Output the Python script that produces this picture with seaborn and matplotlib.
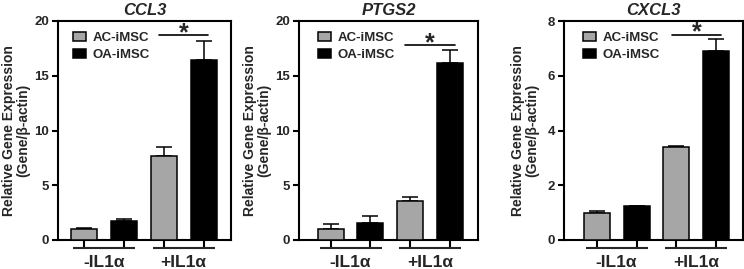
import numpy as np
import pandas as pd
import matplotlib
matplotlib.use('Agg')
import matplotlib.pyplot as plt
import matplotlib.transforms as mtransforms
import seaborn as sns

# ========== DATA ==========
GENES = ['CCL3', 'PTGS2', 'CXCL3']
CONDITIONS = ['-IL1α', '+IL1α']
GROUPS = ['AC-iMSC', 'OA-iMSC']

CCL3_AC = [1.00, 7.65]
CCL3_AC_ERR = [0.07, 0.88]
CCL3_OA = [1.75, 16.45]
CCL3_OA_ERR = [0.17, 1.72]

PTGS2_AC = [1.00, 3.56]
PTGS2_AC_ERR = [0.43, 0.39]
PTGS2_OA = [1.52, 16.20]
PTGS2_OA_ERR = [0.67, 1.15]

CXCL3_AC = [0.97, 3.41]
CXCL3_AC_ERR = [0.10, 0.03]
CXCL3_OA = [1.23, 6.91]
CXCL3_OA_ERR = [0.03, 0.45]

SIG_Y = [18.7, 17.8, 7.5]
Y_MAX = [20, 20, 8]
Y_STEP = [5, 5, 2]

PANELS = [
    (CCL3_AC, CCL3_AC_ERR, CCL3_OA, CCL3_OA_ERR),
    (PTGS2_AC, PTGS2_AC_ERR, PTGS2_OA, PTGS2_OA_ERR),
    (CXCL3_AC, CXCL3_AC_ERR, CXCL3_OA, CXCL3_OA_ERR),
]

# ========== LAYOUT ==========
W, H = 744, 269
AX_PX = [(58, 231), (299, 478), (564, 743)]
AX_TOP, AX_BOT = 21, 240
XLIMS = [(-0.577, 1.593), (-0.648, 1.604), (-0.66, 1.585)]
LEGEND_X = [0.087, 0.107, 0.107]
LABELPAD = [3, 3, 6]
COLORS = ['#a6a6a6', '#000000']

sns.set_style('ticks')
plt.rcParams['font.family'] = ['Liberation Sans', 'DejaVu Sans']
plt.rcParams['font.weight'] = 'bold'


def draw_panel(ax, gene, ac, ac_err, oa, oa_err, sig_y, ymax, ystep, xlim, leg_x, lpad):
    df = pd.DataFrame({
        'condition': CONDITIONS * 2,
        'group': [GROUPS[0]] * 2 + [GROUPS[1]] * 2,
        'value': ac + oa,
    })
    sns.barplot(data=df, x='condition', y='value', hue='group', order=CONDITIONS,
                hue_order=GROUPS, palette=COLORS, width=1.0, gap=0.35,
                errorbar=None, edgecolor='black', linewidth=1.1, legend=False,
                saturation=1, ax=ax, zorder=3)

    # upward-only error bars, positioned from the drawn bars
    centers = []
    for cont, err in zip(ax.containers, [ac_err, oa_err]):
        xs = [p.get_x() + p.get_width() / 2 for p in cont]
        ys = [p.get_height() for p in cont]
        centers += xs
        ax.errorbar(xs, ys, yerr=[np.zeros(len(err)), err], fmt='none',
                    ecolor='black', elinewidth=1.1, capsize=6, capthick=1.1, zorder=2)

    ax.set_xlim(*xlim)
    ax.set_ylim(0, ymax)
    ax.set_yticks(np.arange(0, ymax + 0.01, ystep))
    ax.yaxis.set_major_formatter(matplotlib.ticker.FormatStrFormatter('%d'))

    # group labels on major ticks, bar ticks as minor
    ax.set_xticks(range(len(CONDITIONS)))
    ax.set_xticklabels(CONDITIONS, fontsize=12.5, fontweight='bold')
    ax.set_xticks(sorted(centers), minor=True)
    ax.tick_params(axis='x', which='major', length=0, pad=11)
    ax.tick_params(axis='x', which='minor', length=6, width=1.5, direction='out', color='black')
    ax.tick_params(axis='y', length=4.5, width=1.5, direction='out', labelsize=9.5, pad=2, color='black')
    for lab in ax.get_yticklabels():
        lab.set_fontweight('bold')

    for side in ['left', 'right', 'top', 'bottom']:
        ax.spines[side].set_visible(True)
        ax.spines[side].set_linewidth(1.5)
        ax.spines[side].set_color('black')

    # group bracket lines below the axis
    trans = mtransforms.blended_transform_factory(ax.transData, ax.transAxes)
    for g in range(len(CONDITIONS)):
        ax.plot([g - 0.39, g + 0.39], [-8 / 219, -8 / 219], transform=trans,
                color='#262626', lw=1.5, clip_on=False, solid_capstyle='butt')

    # significance line and star over the +IL1α pair
    ax.plot([1 - 0.31, 1 + 0.31], [sig_y, sig_y], color='black', lw=1.2, clip_on=False)
    ax.annotate('*', xy=(1, sig_y), xytext=(0, -3.5), textcoords='offset points',
                ha='center', va='baseline', fontsize=18, fontweight='bold')

    ax.set_title(gene, fontsize=12, fontweight='bold', fontstyle='italic', pad=4)
    ax.set_ylabel('Relative Gene Expression\n(Gene/β-actin)', fontsize=10,
                  fontweight='bold', linespacing=1.0, labelpad=lpad)
    ax.set_xlabel('')

    ax.legend(ax.containers, GROUPS, loc='upper left', bbox_to_anchor=(leg_x, 0.95),
              frameon=False, borderpad=0, borderaxespad=0, handlelength=1.0,
              handletextpad=0.5, labelspacing=0.35,
              prop={'weight': 'bold', 'size': 9.5})


def main():
    fig = plt.figure(figsize=(W / 100, H / 100), dpi=100)
    for i, gene in enumerate(GENES):
        l, r = AX_PX[i]
        ax = fig.add_axes([l / W, 1 - AX_BOT / H, (r - l) / W, (AX_BOT - AX_TOP) / H])
        ac, ac_err, oa, oa_err = PANELS[i]
        draw_panel(ax, gene, ac, ac_err, oa, oa_err, SIG_Y[i], Y_MAX[i], Y_STEP[i],
                   XLIMS[i], LEGEND_X[i], LABELPAD[i])
    fig.savefig('out.png', dpi=100)
    plt.close(fig)


if __name__ == "__main__":
    main()
